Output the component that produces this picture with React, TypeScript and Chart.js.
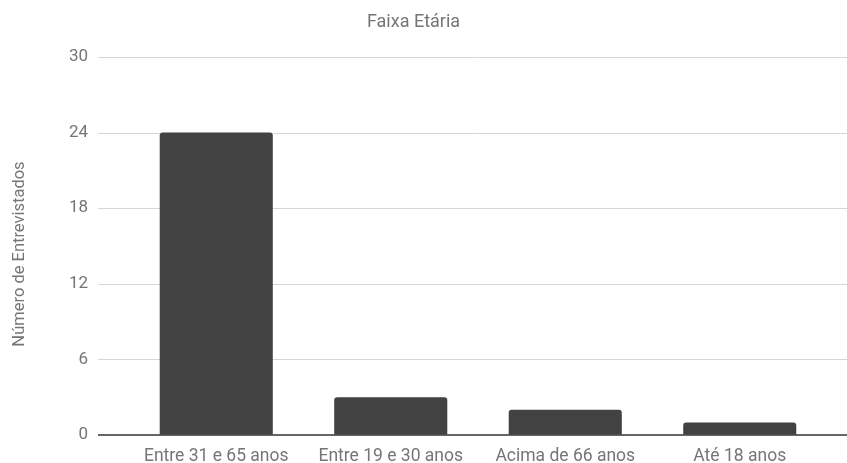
import React, { useEffect, useRef } from "react";
import { Chart, registerables } from "chart.js";

Chart.register(...registerables);

const chartTitle = "Faixa Etária";
const yAxisTitle = "Número de Entrevistados";
const categories = ["Entre 31 e 65 anos", "Entre 19 e 30 anos", "Acima de 66 anos", "Até 18 anos"];
const respondents = [24, 3, 2, 1];
const yTicks = [0, 6, 12, 18, 24, 30];

const TEXT = "#757575";
const BAR = "#424242";
const FONT = "Roboto";

// Horizontal rules across the full width (placed with the y scale),
// a darker baseline at zero, and the rotated y-axis caption.
const decorPlugin = {
  id: "decor",
  beforeDatasetsDraw(chart: any) {
    const { ctx, scales, width, chartArea } = chart;
    const y = scales.y;
    ctx.save();
    ctx.lineWidth = 1;
    ctx.strokeStyle = "#d6d6d6";
    for (const v of yTicks) {
      if (v === 0) continue;
      const py = Math.round(y.getPixelForValue(v)) + 0.5;
      ctx.beginPath();
      ctx.moveTo(chartArea.left - 31, py);
      ctx.lineTo(width, py);
      ctx.stroke();
    }
    // rotated axis caption, centred on the value range
    ctx.fillStyle = TEXT;
    ctx.font = `16.5px ${FONT}`;
    ctx.textAlign = "center";
    ctx.textBaseline = "middle";
    ctx.translate(19.5, (chartArea.top + chartArea.bottom) / 2 + 8);
    ctx.rotate(-Math.PI / 2);
    ctx.fillText(yAxisTitle, 0, 0);
    ctx.restore();
  },
  afterDatasetsDraw(chart: any) {
    const { ctx, scales, width, chartArea } = chart;
    const py = scales.y.getPixelForValue(0);
    ctx.save();
    ctx.strokeStyle = "#333333";
    ctx.lineWidth = 1.5;
    ctx.beginPath();
    ctx.moveTo(chartArea.left - 31, py);
    ctx.lineTo(width, py);
    ctx.stroke();
    ctx.restore();
  },
};

export default function App() {
  const ref = useRef<HTMLCanvasElement | null>(null);

  useEffect(() => {
    if (!ref.current) return;
    const chart = new Chart(ref.current, {
      type: "bar",
      data: {
        labels: categories,
        datasets: [
          {
            data: respondents,
            backgroundColor: BAR,
            borderRadius: { topLeft: 3, topRight: 3, bottomLeft: 0, bottomRight: 0 },
            borderSkipped: "bottom",
            categoryPercentage: 1,
            barPercentage: 0.648,
          },
        ],
      },
      options: {
        animation: false,
        responsive: false,
        maintainAspectRatio: false,
        layout: { padding: { left: 0, right: 20, top: 0, bottom: 0 } },
        plugins: {
          legend: { display: false },
          tooltip: { enabled: false },
          title: {
            display: true,
            text: chartTitle,
            color: TEXT,
            font: { family: FONT, size: 18, weight: "normal", lineHeight: 1.2 },
            padding: { top: 12, bottom: 23.4 },
          },
        },
        scales: {
          x: {
            grid: { display: false, drawTicks: false },
            border: { display: false },
            ticks: {
              color: TEXT,
              font: { family: FONT, size: 17.5 },
              padding: 11,
              maxRotation: 0,
              autoSkip: false,
            },
            afterFit(scale: any) {
              scale.height = 28;
            },
          },
          y: {
            min: 0,
            max: 30,
            grid: { display: true, color: "transparent", drawOnChartArea: false, drawTicks: true, tickLength: 31, tickColor: "transparent" },
            border: { display: false },
            ticks: {
              stepSize: 6,
              color: TEXT,
              font: { family: FONT, size: 17 },
              padding: 10,
            },
            afterFit(scale: any) {
              scale.width = 129;
            },
          },
        },
      },
      plugins: [decorPlugin],
    });
    return () => chart.destroy();
  }, []);

  return (
    <div style={{ position: "fixed", left: 0, top: 0, width: 847, height: 463, background: "#fff" }}>
      <canvas ref={ref} width={847} height={463} />
    </div>
  );
}
